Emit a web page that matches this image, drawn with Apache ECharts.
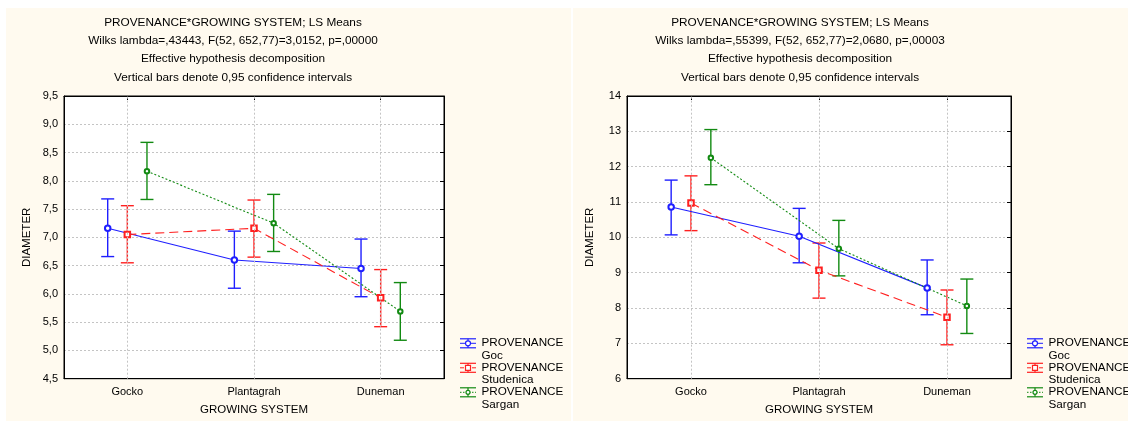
<!DOCTYPE html>
<html>
<head>
<meta charset="utf-8">
<title>PROVENANCE*GROWING SYSTEM; LS Means</title>
<script src="https://cdn.jsdelivr.net/npm/echarts@6/dist/echarts.min.js"></script>
<style>
  html, body { margin: 0; padding: 0; background: #ffffff; }
  #chart { width: 1128px; height: 421px; }
</style>
</head>
<body>
<div id="chart"></div>
<script>
// ---- data ----
const categories = ['Gocko', 'Plantagrah', 'Duneman'];
const provenances = ['Goc', 'Studenica', 'Sargan'];
const legendHeading = 'PROVENANCE';
const xAxisName = 'GROWING SYSTEM';
const yAxisName = 'DIAMETER';

const titleLinesLeft = [
  'PROVENANCE*GROWING SYSTEM; LS Means',
  'Wilks lambda=,43443, F(52, 652,77)=3,0152, p=,00000',
  'Effective hypothesis decomposition',
  'Vertical bars denote 0,95 confidence intervals'
];
const titleLinesRight = [
  'PROVENANCE*GROWING SYSTEM; LS Means',
  'Wilks lambda=,55399, F(52, 652,77)=2,0680, p=,00003',
  'Effective hypothesis decomposition',
  'Vertical bars denote 0,95 confidence intervals'
];

// left panel: LS means with 0.95 confidence limits
const gocMeanL  = [7.16, 6.60, 6.45];
const gocLowL   = [6.66, 6.10, 5.95];
const gocHighL  = [7.68, 7.11, 6.97];
const studMeanL = [7.05, 7.16, 5.93];
const studLowL  = [6.55, 6.65, 5.42];
const studHighL = [7.56, 7.66, 6.43];
const sarMeanL  = [8.17, 7.25, 5.69];
const sarLowL   = [7.67, 6.75, 5.18];
const sarHighL  = [8.68, 7.76, 6.20];

// right panel
const gocMeanR  = [10.86, 10.03, 8.57];
const gocLowR   = [10.07, 9.28, 7.81];
const gocHighR  = [11.62, 10.82, 9.36];
const studMeanR = [10.97, 9.07, 7.74];
const studLowR  = [10.19, 8.28, 6.96];
const studHighR = [11.74, 9.84, 8.51];
const sarMeanR  = [12.25, 9.68, 8.06];
const sarLowR   = [11.49, 8.91, 7.28];
const sarHighR  = [13.05, 10.48, 8.82];

// value-axis ranges
const yRangeLeft = { min: 4.5, max: 9.5, interval: 0.5 };
const yRangeRight = { min: 6, max: 14, interval: 1 };

// ---- styling ----
const FONT = "'Liberation Sans', Arial, sans-serif";
const colors = ['#1f1fff', '#ff2020', '#128a12'];
const dashes = ['solid', [9, 5], [2, 2]];
const symbols = ['emptyCircle', 'emptyRect', 'emptyCircle'];
const symbolSizes = [5.5, 5.5, 4.5];
const xShift = [-0.155, 0, 0.155]; // side-by-side placement within a category
const gridColor = '#c4c4c4';

const panels = [
  {
    grid: { left: 64, top: 96, width: 380, height: 282.7 },
    range: yRangeLeft, fmt: v => v.toFixed(1).replace('.', ','),
    titleX: 233, legendX: 460,
    title: titleLinesLeft,
    mean: [gocMeanL, studMeanL, sarMeanL],
    low: [gocLowL, studLowL, sarLowL],
    high: [gocHighL, studHighL, sarHighL]
  },
  {
    grid: { left: 627, top: 96, width: 384, height: 282.7 },
    range: yRangeRight, fmt: v => String(v),
    titleX: 800, legendX: 1027,
    title: titleLinesRight,
    mean: [gocMeanR, studMeanR, sarMeanR],
    low: [gocLowR, studLowR, sarLowR],
    high: [gocHighR, studHighR, sarHighR]
  }
];

function errorBar(params, api) {
  const x = api.value(0);
  const lo = api.coord([x, api.value(1)]);
  const hi = api.coord([x, api.value(2)]);
  const half = 6.5;
  const style = { stroke: api.visual('color'), lineWidth: 1.4, fill: null };
  return {
    type: 'group',
    children: [
      { type: 'line', shape: { x1: lo[0], y1: lo[1], x2: hi[0], y2: hi[1] }, style },
      { type: 'line', shape: { x1: lo[0] - half, y1: lo[1], x2: lo[0] + half, y2: lo[1] }, style },
      { type: 'line', shape: { x1: hi[0] - half, y1: hi[1], x2: hi[0] + half, y2: hi[1] }, style }
    ]
  };
}

function legendEntry(x, yc, k) {
  const c = colors[k];
  const s = { stroke: c, lineWidth: 1.2, fill: null };
  const midDash = dashes[k] === 'solid' ? null : (k === 1 ? [4, 2] : [1.5, 1.5]);
  const children = [
    { type: 'line', shape: { x1: x, y1: yc - 4.5, x2: x + 16, y2: yc - 4.5 }, style: s },
    { type: 'line', shape: { x1: x, y1: yc + 4.5, x2: x + 16, y2: yc + 4.5 }, style: s },
    { type: 'line', shape: { x1: x + 8, y1: yc - 4.5, x2: x + 8, y2: yc + 4.5 }, style: s },
    { type: 'line', shape: { x1: x, y1: yc, x2: x + 16, y2: yc }, style: { stroke: c, lineWidth: 1, lineDash: midDash } }
  ];
  if (k === 1) {
    children.push({ type: 'rect', shape: { x: x + 5.5, y: yc - 2.5, width: 5, height: 5 }, style: { fill: '#fff', stroke: c, lineWidth: 1.2 } });
  } else {
    children.push({ type: 'circle', shape: { cx: x + 8, cy: yc, r: k === 0 ? 2.5 : 2 }, style: { fill: '#fff', stroke: c, lineWidth: 1.2 } });
  }
  children.push({
    type: 'text', x: x + 21.5, y: yc - 6.8,
    style: { text: legendHeading + '\n' + provenances[k], font: '11.7px ' + FONT, fill: '#000', lineHeight: 12.6, textVerticalAlign: 'top' }
  });
  return { type: 'group', children };
}

const option = {
  animation: false,
  backgroundColor: '#ffffff',
  textStyle: { fontFamily: FONT },
  grid: [], xAxis: [], yAxis: [], series: [], graphic: []
};

// cream panel backgrounds
option.graphic.push(
  { type: 'rect', z: -10, shape: { x: 6, y: 8, width: 565, height: 413 }, style: { fill: '#fffaef' } },
  { type: 'rect', z: -10, shape: { x: 573, y: 8, width: 555, height: 413 }, style: { fill: '#fffaef' } }
);

panels.forEach((p, pi) => {
  option.grid.push(Object.assign({
    show: true, backgroundColor: '#ffffff', borderColor: '#000', borderWidth: 1
  }, p.grid));

  const xBase = option.xAxis.length;
  // category axis (labels)
  option.xAxis.push({
    type: 'category', gridIndex: pi, data: categories, boundaryGap: true,
    axisLine: { onZero: false, lineStyle: { color: '#000', width: 1 } },
    axisTick: { show: false },
    axisLabel: { color: '#000', fontSize: 11, fontFamily: FONT, margin: 8 },
    name: xAxisName, nameLocation: 'middle', nameGap: 25,
    nameTextStyle: { color: '#000', fontSize: 11.5, fontFamily: FONT },
    splitLine: { show: false }
  });
  // top frame ticks
  option.xAxis.push({
    type: 'category', gridIndex: pi, data: categories, position: 'top', boundaryGap: true,
    axisLine: { onZero: false, lineStyle: { color: '#000' } },
    axisTick: { show: true, inside: true, length: 4, alignWithLabel: true, lineStyle: { color: '#000' } },
    axisLabel: { show: false }, splitLine: { show: false }
  });
  // numeric x used to place marks side by side
  option.xAxis.push({
    type: 'value', gridIndex: pi, min: -0.5, max: 2.5, show: false,
    axisLine: { onZero: false }, splitLine: { show: false }
  });

  const yBase = option.yAxis.length;
  option.yAxis.push({
    type: 'value', gridIndex: pi, min: p.range.min, max: p.range.max, interval: p.range.interval,
    position: 'left',
    axisLine: { show: true, onZero: false, lineStyle: { color: '#000' } },
    axisTick: { show: false },
    axisLabel: { color: '#000', fontSize: 11, fontFamily: FONT, margin: 6, formatter: p.fmt },
    splitLine: { show: true, lineStyle: { color: gridColor, type: [2, 2], width: 1 } },
    name: yAxisName, nameLocation: 'middle', nameGap: 31, nameRotate: 90,
    nameTextStyle: { color: '#000', fontSize: 11.5, fontFamily: FONT }
  });
  option.yAxis.push({
    type: 'value', gridIndex: pi, min: p.range.min, max: p.range.max, interval: p.range.interval,
    position: 'right',
    axisLine: { show: true, onZero: false, lineStyle: { color: '#000' } },
    axisTick: { show: true, inside: true, length: 4, lineStyle: { color: '#000' } },
    axisLabel: { show: false }, splitLine: { show: false }
  });

  const xi = xBase + 2;
  // vertical dotted grid lines at category centres
  option.series.push({
    type: 'line', xAxisIndex: xi, yAxisIndex: yBase, data: [], z: 1, silent: true,
    markLine: {
      silent: true, symbol: ['none', 'none'], label: { show: false },
      lineStyle: { color: gridColor, type: [2, 2], width: 1 },
      data: categories.map((c, i) => ({ xAxis: i }))
    }
  });

  provenances.forEach((name, k) => {
    option.series.push({
      type: 'custom', name: name + ' CI', xAxisIndex: xi, yAxisIndex: yBase, z: 3,
      renderItem: errorBar,
      itemStyle: { color: colors[k] },
      encode: { x: 0, y: [1, 2] },
      data: categories.map((c, i) => [i + xShift[k], p.low[k][i], p.high[k][i]])
    });
    option.series.push({
      type: 'line', name: name, xAxisIndex: xi, yAxisIndex: yBase, z: 4,
      symbol: symbols[k], symbolSize: symbolSizes[k],
      itemStyle: { color: colors[k], borderWidth: 1.1 },
      lineStyle: { color: colors[k], width: 1.1, type: dashes[k] },
      data: categories.map((c, i) => [i + xShift[k], p.mean[k][i]])
    });
  });

  // heading lines
  p.title.forEach((line, li) => {
    option.graphic.push({
      type: 'text', x: p.titleX, y: 22.5 + li * 18.3,
      style: { text: line, font: '11.8px ' + FONT, fill: '#000', textAlign: 'center', textVerticalAlign: 'middle' }
    });
  });

  // key
  provenances.forEach((name, k) => {
    option.graphic.push(legendEntry(p.legendX, 343.3 + k * 24.5, k));
  });
});

const chart = echarts.init(document.getElementById('chart'), null, { renderer: 'canvas' });
chart.setOption(option);
</script>
</body>
</html>
